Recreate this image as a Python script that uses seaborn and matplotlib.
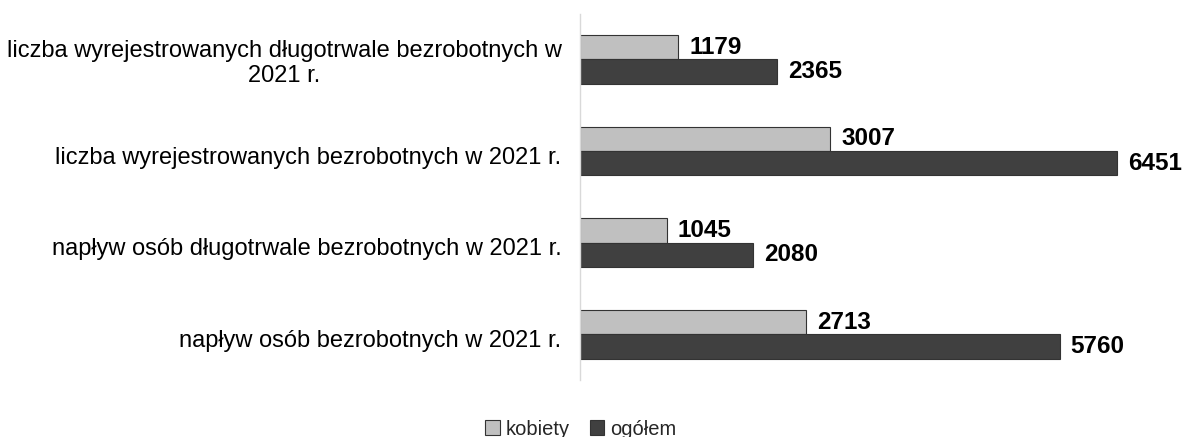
import matplotlib
matplotlib.use("Agg")
import matplotlib.pyplot as plt
import matplotlib.transforms as mtransforms
import seaborn as sns
import pandas as pd

categories = [
    "liczba wyrejestrowanych długotrwale bezrobotnych w\n2021 r.",
    "liczba wyrejestrowanych bezrobotnych w 2021 r.",
    "napływ osób długotrwale bezrobotnych w 2021 r.",
    "napływ osób bezrobotnych w 2021 r.",
]
kobiety = [1179, 3007, 1045, 2713]
ogolem = [2365, 6451, 2080, 5760]
series = ["kobiety", "ogółem"]
colors = ["#c0c0c0", "#404040"]

df = pd.DataFrame({
    "cat": categories * 2,
    "val": kobiety + ogolem,
    "ser": [series[0]] * 4 + [series[1]] * 4,
})

sns.set_theme(style="white")
plt.rcParams['font.family'] = ['Liberation Sans', 'DejaVu Sans']

fig = plt.figure(figsize=(11.83, 4.37), dpi=100)
ax = fig.add_axes([0.490, 0.130, 0.493, 0.839])
sns.barplot(data=df, y="cat", x="val", hue="ser", order=categories,
            hue_order=series, palette=colors, orient="h", width=0.53,
            edgecolor="#333333", linewidth=0.8, ax=ax, legend=True)

ax.set_xlim(0, 7000)
ax.set_ylim(3.5, -0.5)
ax.set_xlabel("")
ax.set_ylabel("")
ax.set_xticks([])
for s in ["top", "right", "bottom"]:
    ax.spines[s].set_visible(False)
ax.spines["left"].set_color("#d9d9d9")
ax.spines["left"].set_linewidth(1)
ax.tick_params(axis="y", length=0, pad=13, labelsize=17, labelcolor="#000000")
shift = mtransforms.ScaledTranslation(0, -4 / 100, fig.dpi_scale_trans)
for lbl in ax.get_yticklabels():
    lbl.set_multialignment("center")
    if "\n" not in lbl.get_text():
        lbl.set_transform(lbl.get_transform() + shift)

for cont in ax.containers:
    ax.bar_label(cont, labels=[f"{int(v)}" for v in cont.datavalues], padding=8,
                 fontsize=17.5, fontweight="bold", color="#000000")

handles, labels = ax.get_legend_handles_labels()
ax.legend_.remove()
fig.legend(handles, labels, loc="lower center", bbox_to_anchor=(0.491, -0.045),
           ncol=2, frameon=False, fontsize=14.5, handlelength=0.7, handleheight=0.7,
           handletextpad=0.3, columnspacing=1.0)

fig.savefig("out.png", dpi=100)
